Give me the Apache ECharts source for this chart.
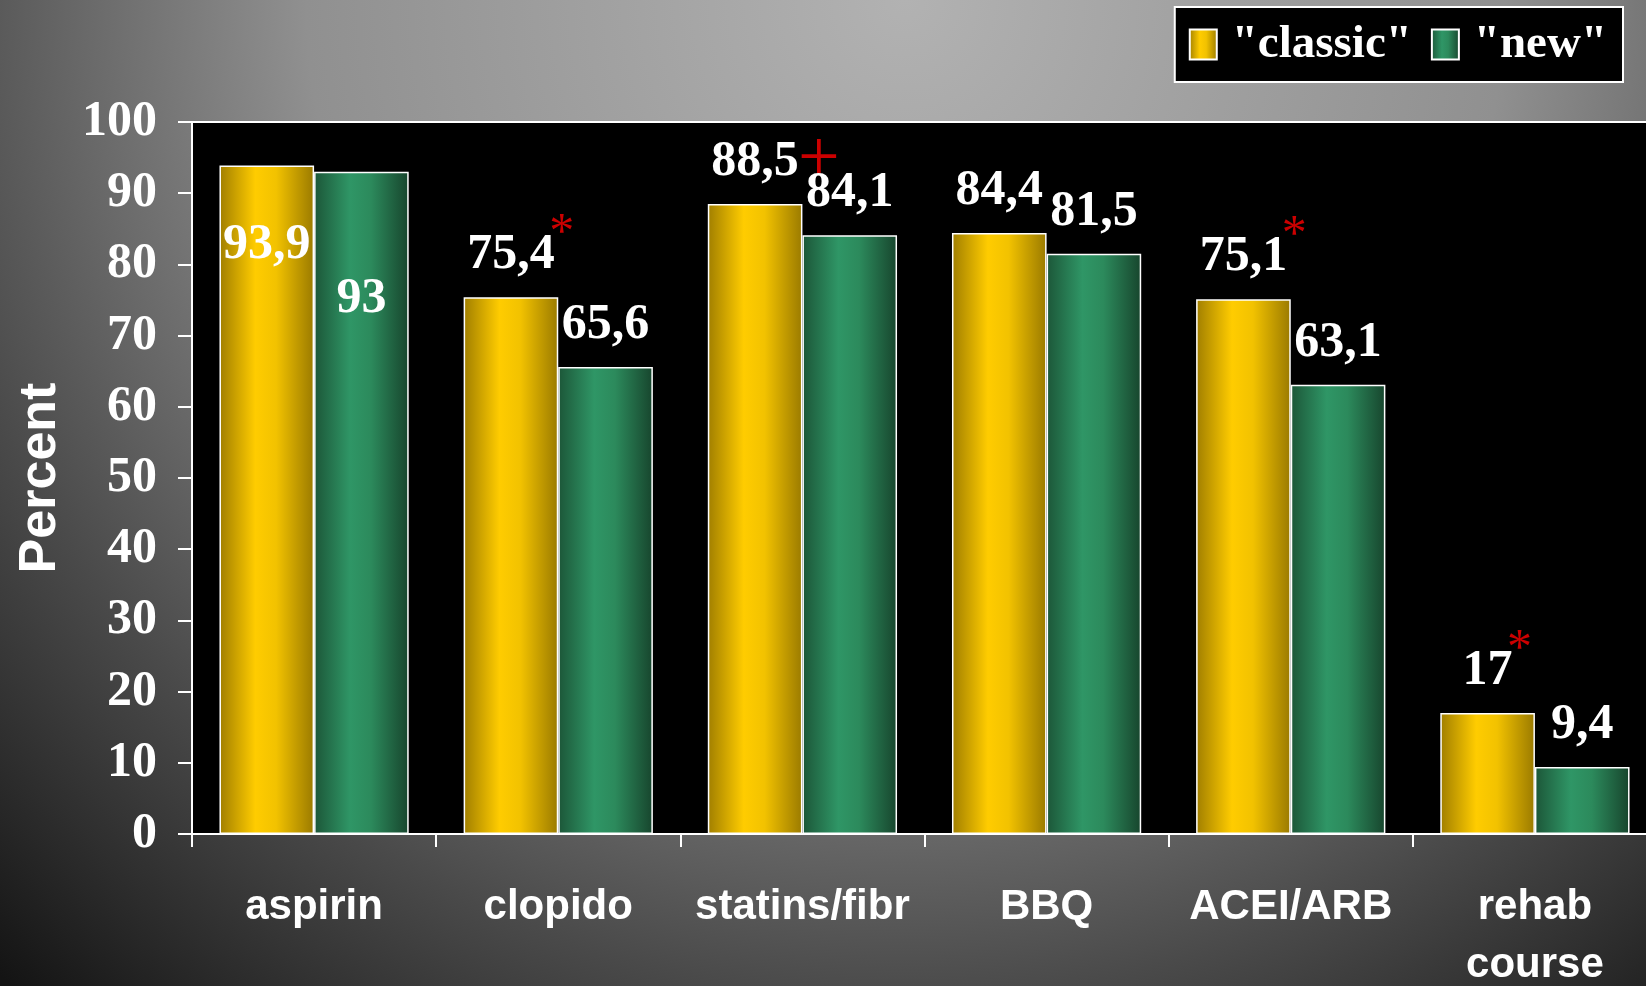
<!DOCTYPE html>
<html>
<head>
<meta charset="utf-8">
<script src="https://cdn.jsdelivr.net/npm/echarts@6/dist/echarts.min.js"></script>
<style>
html,body{margin:0;padding:0;background:#000;}
#chart{width:1646px;height:986px;}
</style>
</head>
<body>
<div id="chart"></div>
<script>
const categories = ['aspirin', 'clopido', 'statins/fibr', 'BBQ', 'ACEI/ARB', 'rehab\ncourse'];
const classicValues = [93.9, 75.4, 88.5, 84.4, 75.1, 17];
const newValues = [93, 65.6, 84.1, 81.5, 63.1, 9.4];
const classicMarks = ['', '*', '+', '', '*', '*'];
const newMarks = ['', '', '', '', '', ''];
const yTicks = [0, 10, 20, 30, 40, 50, 60, 70, 80, 90, 100];
const seriesNames = ['"classic"', '"new"'];

const SERIF = '"Liberation Serif", "Times New Roman", serif';
const SANS = '"Liberation Sans", Arial, sans-serif';

const yellowGrad = {type:'linear', x:0, y:0, x2:1, y2:0, colorStops:[
  {offset:0, color:'#a07e00'}, {offset:0.38, color:'#ffcc00'}, {offset:0.6, color:'#f2c200'}, {offset:1, color:'#9a7a00'}]};
const greenGrad = {type:'linear', x:0, y:0, x2:1, y2:0, colorStops:[
  {offset:0, color:'#1c5638'}, {offset:0.38, color:'#2f9666'}, {offset:0.6, color:'#2c8a5c'}, {offset:1, color:'#17452d'}]};

function fmt(v){ return String(v).replace('.', ','); }

const richStyles = {
  v: {fontFamily: SERIF, fontWeight:'bold', fontSize:50, color:'#fff', lineHeight:50, padding:[42,0,0,0]},
  ps: {width:14},
  pc: {width:40},
  s: {fontFamily: SERIF, fontSize:50, color:'#cc0000', width:14, align:'center', lineHeight:24, verticalAlign:'top'},
  c: {fontFamily: SERIF, fontSize:74, color:'#cc0000', width:40, lineHeight:47, padding:[9,0,0,0], verticalAlign:'top'}
};

function makeLabelFormatter(marks){
  return function(p){
    const m = marks[p.dataIndex];
    const t = '{v|' + fmt(p.value) + '}';
    if (m === '*') return '{ps|}' + t + '{s|*}';
    if (m === '+') return '{pc|}' + t + '{c|+}';
    return t;
  };
}

function buildData(values, insideDistance){
  return values.map(function(v, i){
    if (i === 0) {
      return {value: v, label: {position:'insideTop', distance: insideDistance}};
    }
    return v;
  });
}

const chart = echarts.init(document.getElementById('chart'));
chart.setOption({
  backgroundColor: {type:'radial', x:0.55, y:0, r:1.35, colorStops:[
    {offset:0, color:'#b2b2b2'}, {offset:0.45, color:'#909090'}, {offset:0.75, color:'#4a4a4a'}, {offset:1, color:'#141414'}]},
  animation: false,
  legend: {
    data: seriesNames,
    right: 23, top: 7,
    icon: 'rect',
    backgroundColor: '#000',
    borderColor: '#fff', borderWidth: 2,
    padding: [14, 16, 14, 14],
    itemWidth: 27, itemHeight: 30, itemGap: 19,
    textStyle: {fontFamily: SERIF, fontWeight:'bold', fontSize:47, color:'#fff', padding:[0,0,0,10]}
  },
  grid: {left:192, top:122, right:-11, bottom:152, outerBoundsMode:'none', containLabel:false,
    show:true, backgroundColor:'#000', borderColor:'#fff', borderWidth:2},
  xAxis: {
    type: 'category',
    data: categories,
    axisLine: {lineStyle:{color:'#fff', width:2}},
    axisTick: {show:true, length:13, lineStyle:{color:'#fff', width:2}},
    axisLabel: {color:'#fff', fontFamily: SANS, fontWeight:'bold', fontSize:42, lineHeight:58, margin:44, interval:0}
  },
  yAxis: {
    type: 'value',
    min: yTicks[0], max: yTicks[yTicks.length-1], interval: 10,
    name: 'Percent',
    nameLocation: 'middle',
    nameGap: 125,
    nameTextStyle: {color:'#fff', fontFamily: SANS, fontWeight:'bold', fontSize:52},
    axisLine: {show:true, lineStyle:{color:'#fff', width:2}},
    axisTick: {show:true, length:14, lineStyle:{color:'#fff', width:2}},
    splitLine: {show:false},
    axisLabel: {color:'#fff', fontFamily: SERIF, fontWeight:'bold', fontSize:50, margin:35}
  },
  series: [
    {
      name: seriesNames[0], type:'bar', barGap:'0%', barCategoryGap:'22.5%',
      data: buildData(classicValues, 34),
      itemStyle: {color: yellowGrad, borderColor:'#fff', borderWidth:1.5},
      label: {show:true, position:'top', distance:38, formatter: makeLabelFormatter(classicMarks), rich: richStyles}
    },
    {
      name: seriesNames[1], type:'bar',
      data: buildData(newValues, 81),
      itemStyle: {color: greenGrad, borderColor:'#fff', borderWidth:1.5},
      label: {show:true, position:'top', distance:38, formatter: makeLabelFormatter(newMarks), rich: richStyles}
    }
  ]
});
</script>
</body>
</html>
